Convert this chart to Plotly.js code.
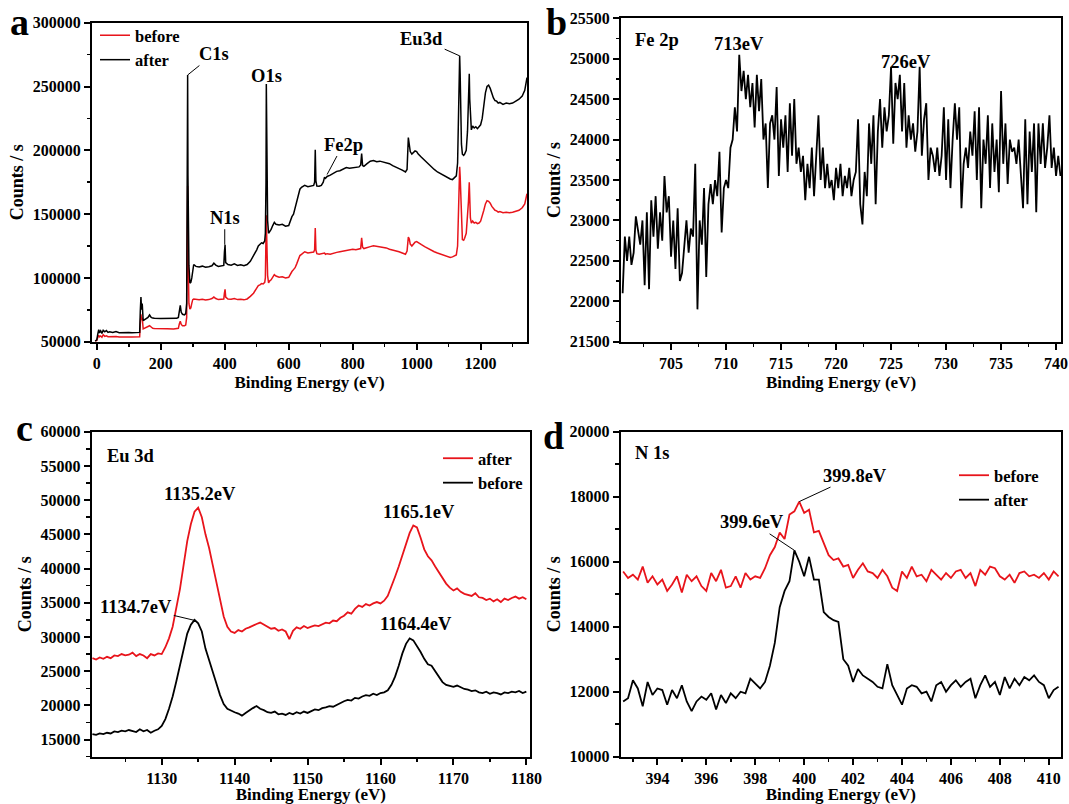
<!DOCTYPE html>
<html>
<head>
<meta charset="utf-8">
<script src="https://cdn.plot.ly/plotly-3.0.1.min.js"></script>
<style>html,body{margin:0;padding:0;background:#fff;}#chart{width:1069px;height:804px;}</style>
</head>
<body>
<div id="chart"></div>
<script>
// ---------- Panel a: survey spectrum ----------
const surveyEnergy = [
  -5,0,3,6,8,12,16,20,25,30,
  35,40,50,60,70,80,90,100,110,120,
  130,134,136,138,140,142,145,150,155,160,
  165,170,175,180,200,220,240,250,255,258,
  261,264,268,274,278,281,282,283,284,285,
  286,288,291,294,297,300,303,310,320,330,
  340,350,360,366,372,380,390,397,399,401,
  403,410,420,430,440,450,460,470,480,490,
  500,505,510,515,520,525,527,529,530,531,
  532,534,537,540,545,550,555,560,570,580,
  590,600,605,610,615,620,625,630,635,640,
  650,660,670,678,681,683,685,688,695,702,
  708,712,715,720,730,740,750,760,770,780,
  790,800,810,820,825,828,831,835,845,855,
  865,875,885,895,905,915,925,935,945,955,
  965,970,974,977,980,985,990,995,1000,1005,
  1015,1025,1035,1045,1055,1065,1075,1085,1095,1105,
  1112,1118,1124,1128,1131,1133,1134.5,1136,1138,1140,
  1143,1147,1150,1155,1159,1162,1164.5,1166,1168,1171,
  1175,1180,1185,1190,1195,1200,1205,1210,1215,1220,
  1225,1230,1235,1240,1245,1250,1255,1260,1270,1280,
  1290,1300,1310,1320,1330,1338,1345
];
const surveyAfter = [
  50500,51500,56000,59500,57000,58500,56500,59000,57800,58800,
  57300,57800,57200,57900,57100,57300,57000,57200,57000,57100,
  57100,57300,74000,85000,75000,80000,66500,67500,68000,69000,
  71000,69000,68500,68300,68200,68400,68100,68300,69000,75000,
  78500,73000,71500,71000,72000,80000,180000,185000,259000,180000,
  140000,110000,96000,96500,100000,108000,110500,109000,108500,109200,
  108300,108800,109500,111500,110000,109000,109500,109800,120000,126000,
  112000,110500,110000,111000,109800,110300,109500,110500,113000,117000,
  122000,125000,126000,127500,127000,129000,135000,175000,252000,230000,
  180000,145000,135000,136000,138000,141000,143500,142000,141500,142000,
  140500,141000,145000,148000,150000,155000,160000,166000,169500,171000,
  172500,171500,172000,172500,175000,200500,176000,172000,171800,172500,
  175000,179000,178000,179500,180500,182000,183500,184000,185000,186500,
  186000,186200,186500,187000,188500,197500,188000,187500,189500,191500,
  192000,191000,191500,191000,190000,189500,188000,187000,186000,184500,
  183000,185000,210000,205000,199000,197000,198000,199500,199000,197000,
  194500,192000,189500,187000,185000,183000,181500,180000,178500,177500,
  177000,178500,180000,190000,225000,230000,274000,260000,225000,205000,
  197000,196000,197000,200000,215000,240000,260000,240000,222000,216000,
  219000,217500,218500,217000,218500,220000,225000,235000,245000,250000,
  251000,248500,244000,241000,239000,238500,237000,237500,236000,237000,
  236500,237000,238500,240000,242500,247000,257000
];
const surveyBefore = [
  50300,51000,53500,55000,53800,54500,53500,55500,54200,54600,
  53900,54000,53700,54100,53600,53800,53500,53700,53600,53700,
  53700,53800,64000,71500,67000,69000,60000,60500,61000,61500,
  62500,61500,60500,60300,60000,60200,60000,60100,60500,64000,
  66000,63500,62500,62500,63000,69000,120000,130000,172000,125000,
  90000,80000,75500,76500,80000,83000,83500,83000,82800,83300,
  82700,83000,83800,85000,83800,83000,83200,83400,88000,91000,
  85000,83500,83200,83800,83000,83300,82800,83500,85500,88000,
  92000,94000,94500,95500,95200,96500,100000,120000,149000,135000,
  115000,102000,96000,97500,98500,101000,102500,101500,100500,100800,
  100000,100500,103000,105000,106500,108000,111000,115000,117500,118500,
  120500,119500,120000,120300,122000,139000,122000,119000,118500,118800,
  119000,119500,118500,119000,118500,119500,120000,120500,121000,121800,
  122300,122500,122000,122300,123000,131500,124000,123000,123500,124500,
  125200,124800,124500,124000,123500,122500,122000,121500,120500,119500,
  118500,121000,132000,130500,126500,125000,126500,128000,128500,127500,
  126000,124500,123000,122000,120500,119500,118500,117500,116500,116000,
  116500,117000,118000,125000,160000,175000,187000,180000,165000,140000,
  130000,129500,131000,135000,148000,160000,175000,160000,147000,143000,
  144500,143000,143500,142500,143000,144500,148000,153000,158000,160500,
  160000,158500,156000,154500,153000,152500,151500,152000,151000,151500,
  151000,151500,152000,153000,155000,158000,166000
];

// ---------- Panel b: Fe 2p ----------
const fe2pEnergy = [
  700.6,700.8,701.0,701.2,701.4,701.6,701.8,702.0,702.2,702.4,
  702.6,702.8,703.0,703.2,703.4,703.6,703.8,704.0,704.2,704.4,
  704.6,704.8,705.0,705.2,705.4,705.6,705.8,706.0,706.2,706.4,
  706.6,706.8,707.0,707.2,707.4,707.6,707.8,708.0,708.2,708.4,
  708.6,708.8,709.0,709.2,709.4,709.6,709.8,710.0,710.2,710.4,
  710.6,710.8,711.0,711.2,711.4,711.6,711.8,712.0,712.2,712.4,
  712.6,712.8,713.0,713.2,713.4,713.6,713.8,714.0,714.2,714.4,
  714.6,714.8,715.0,715.2,715.4,715.6,715.8,716.0,716.2,716.4,
  716.6,716.8,717.0,717.2,717.4,717.6,717.8,718.0,718.2,718.4,
  718.6,718.8,719.0,719.2,719.4,719.6,719.8,720.0,720.2,720.4,
  720.6,720.8,721.0,721.2,721.4,721.6,721.8,722.0,722.2,722.4,
  722.6,722.8,723.0,723.2,723.4,723.6,723.8,724.0,724.2,724.4,
  724.6,724.8,725.0,725.2,725.4,725.6,725.8,726.0,726.2,726.4,
  726.6,726.8,727.0,727.2,727.4,727.6,727.8,728.0,728.2,728.4,
  728.6,728.8,729.0,729.2,729.4,729.6,729.8,730.0,730.2,730.4,
  730.6,730.8,731.0,731.2,731.4,731.6,731.8,732.0,732.2,732.4,
  732.6,732.8,733.0,733.2,733.4,733.6,733.8,734.0,734.2,734.4,
  734.6,734.8,735.0,735.2,735.4,735.6,735.8,736.0,736.2,736.4,
  736.6,736.8,737.0,737.2,737.4,737.6,737.8,738.0,738.2,738.4,
  738.6,738.8,739.0,739.2,739.4,739.6,739.8,740.0,740.2,740.4
];
const fe2pCounts = [
  22100,22800,22500,22800,22450,22600,23050,22900,22700,23000,
  22200,23100,22150,23250,22800,23300,22650,23100,22750,23550,
  23100,23300,22550,23000,22400,23150,22250,22350,22700,23000,
  22600,22900,22800,23700,21900,23000,22700,23400,22300,23200,
  23450,23200,23500,23300,23850,22850,23400,23500,23400,23900,
  24000,24400,24100,25050,24600,24850,24500,24800,24400,24700,
  24150,24800,24350,24750,24000,24200,23400,24200,24300,24000,
  24650,23550,24250,23900,24300,23600,24450,23800,24500,23700,
  23900,23600,23800,23250,23700,23400,23900,23300,23800,24300,
  23500,23900,23400,23700,23400,23500,23250,23650,23400,23700,
  23300,23550,23400,23650,23300,23500,23600,24250,23200,22950,
  23600,23300,24200,23700,24300,23200,24100,24500,23900,24400,
  24100,24300,24900,23950,24700,24500,24800,24100,24700,23900,
  24300,24000,24200,23850,24100,24900,23800,24250,24450,23500,
  23900,23800,23600,23900,23550,23800,24400,23500,24250,23400,
  24000,24450,24000,24400,23150,23700,23900,23650,24100,23800,
  24350,23500,24400,23150,24000,23700,24300,23400,24200,23600,
  24000,23350,24600,23700,24200,23450,24000,23850,23900,23700,
  24000,23500,23150,24250,23200,24100,23600,24200,23100,24200,
  23700,24200,23650,23900,24300,23650,23900,23550,23800,23550
];

// ---------- Panel c: Eu 3d ----------
const eu3dEnergy = [
  1120.5,1121,1121.5,1122,1122.5,1123,1123.5,1124,1124.5,1125,
  1125.5,1126,1126.5,1127,1127.5,1128,1128.5,1129,1129.5,1130,
  1130.5,1131,1131.5,1132,1132.5,1133,1133.5,1134,1134.5,1135,
  1135.5,1136,1136.5,1137,1137.5,1138,1138.5,1139,1139.5,1140,
  1140.5,1141,1141.5,1142,1142.5,1143,1143.5,1144,1144.5,1145,
  1145.5,1146,1146.5,1147,1147.5,1148,1148.5,1149,1149.5,1150,
  1150.5,1151,1151.5,1152,1152.5,1153,1153.5,1154,1154.5,1155,
  1155.5,1156,1156.5,1157,1157.5,1158,1158.5,1159,1159.5,1160,
  1160.5,1161,1161.5,1162,1162.5,1163,1163.5,1164,1164.5,1165,
  1165.5,1166,1166.5,1167,1167.5,1168,1168.5,1169,1169.5,1170,
  1170.5,1171,1171.5,1172,1172.5,1173,1173.5,1174,1174.5,1175,
  1175.5,1176,1176.5,1177,1177.5,1178,1178.5,1179,1179.5,1180
];
const eu3dAfter = [
  26900,26700,27000,26800,27100,26900,27300,27200,27500,27300,
  27400,27700,27200,27500,27300,26900,27500,27300,27600,27500,
  28500,29800,31500,34000,37000,40500,44000,46500,48300,48900,
  47500,45000,43000,40500,38000,35500,33000,31500,30800,30600,
  31000,30800,31200,31400,31700,31900,32100,31800,31500,31200,
  31300,30900,31100,30800,29700,30900,31400,31200,31600,31300,
  31500,31700,31600,31900,32100,32000,32400,32300,32800,33100,
  33600,33400,34100,34600,34400,34800,34600,34900,35100,34900,
  35300,36000,37300,38800,40300,42000,43800,45200,46300,46000,
  44500,42800,41800,41200,40300,39500,38600,37800,37200,36800,
  37100,36600,36300,36200,36000,36400,35800,35700,35400,35600,
  35200,35500,35100,35600,35400,35700,35900,35600,35800,35500
];
const eu3dBefore = [
  15800,15700,15900,15800,16000,15900,16200,16100,16300,16200,
  16400,16300,16100,16500,16200,16400,16000,16300,16500,17000,
  18000,19500,21300,23500,25800,28300,30500,31800,32500,32000,
  30800,28300,26500,24800,23200,21500,20200,19500,19200,19000,
  18800,18500,18900,19300,19600,19900,19500,19300,19000,18900,
  19100,18700,18800,18600,18900,18700,19000,18800,19100,18900,
  19200,19400,19300,19600,19700,19900,19800,20100,20300,20600,
  20800,20700,21100,21000,21300,21500,21400,21700,21500,21800,
  21900,22200,23000,24200,25800,27600,29000,29800,29500,28700,
  27800,26800,26000,25800,25000,24200,23400,23000,22800,22700,
  22900,22600,22400,22300,22100,22200,21900,21800,22000,21700,
  21900,21800,21600,21900,21800,22000,21900,22100,21800,22000
];

// ---------- Panel d: N 1s ----------
const n1sEnergy = [
  392.6,392.8,393.0,393.2,393.4,393.6,393.8,394.0,394.2,394.4,
  394.6,394.8,395.0,395.2,395.4,395.6,395.8,396.0,396.2,396.4,
  396.6,396.8,397.0,397.2,397.4,397.6,397.8,398.0,398.2,398.4,
  398.6,398.8,399.0,399.2,399.4,399.6,399.8,400.0,400.2,400.4,
  400.6,400.8,401.0,401.2,401.4,401.6,401.8,402.0,402.2,402.4,
  402.6,402.8,403.0,403.2,403.4,403.6,403.8,404.0,404.2,404.4,
  404.6,404.8,405.0,405.2,405.4,405.6,405.8,406.0,406.2,406.4,
  406.6,406.8,407.0,407.2,407.4,407.6,407.8,408.0,408.2,408.4,
  408.6,408.8,409.0,409.2,409.4,409.6,409.8,410.0,410.2,410.4
];
const n1sBefore = [
  15700,15500,15600,15450,15850,15350,15550,15300,15450,15100,
  15300,15550,15050,15600,15400,15550,15250,15100,15650,15400,
  15750,15200,15250,15550,15200,15650,15450,15550,15500,15800,
  16200,16450,16900,16700,17450,17550,17850,17500,17600,16900,
  16950,16600,16200,16050,16100,15850,15900,15500,15750,15950,
  15700,15650,15500,15750,15550,15200,15100,15700,15500,15850,
  15550,15600,15400,15750,15600,15450,15650,15500,15700,15750,
  15500,15650,15250,15750,15600,15850,15800,15550,15450,15600,
  15350,15650,15700,15550,15600,15500,15650,15450,15700,15550
];
const n1sAfter = [
  11700,11800,12350,12100,11550,12300,11900,12100,12050,11600,
  12050,11800,12200,11700,11400,11700,11850,11750,11950,11450,
  11900,11650,11950,11800,12000,11950,12400,12250,12100,12300,
  12800,13500,14600,15100,15400,16350,16000,15550,16150,15450,
  15450,14450,14300,14200,14150,13000,12800,12300,12700,12500,
  12400,12300,12150,12100,12850,12200,11900,11600,12100,12200,
  12150,11950,12000,11700,12200,12300,12000,12200,12350,12150,
  12300,12400,11800,12200,12500,12150,12300,11900,12450,12100,
  12400,12200,12450,12350,12500,12300,12200,11800,12050,12150
];

const xTitle = 'Binding Energy (eV)';
const yTitle = 'Counts / s';

// ---------- styling ----------
const FAM = '"Liberation Serif", "Times New Roman", serif';
const W = 1069, H = 804;
const px = v => v / W;
const py = v => 1 - v / H;
const f = (size) => ({family: FAM, size: size, color: '#000', weight: 'bold'});
const RED = '#e8141b';
const TICK = 16, TITLE = 17, ANN = 18.5, LEG = 16.5;

function xAxis(dom, range, dtick, mdt, anchor) {
  return {
    domain: dom, range: range, anchor: anchor,
    showline: true, linecolor: '#000', linewidth: 2, mirror: true,
    ticks: 'outside', ticklen: 6, tickwidth: 2, tickcolor: '#000',
    tick0: 0, dtick: dtick, tickformat: 'd',
    minor: {ticks: 'outside', ticklen: 3.5, tickwidth: 1.5, tickcolor: '#000', dtick: mdt, tick0: 0, showgrid: false},
    showgrid: false, zeroline: false,
    tickfont: f(TICK),
    title: {text: xTitle, font: f(TITLE), standoff: 5}
  };
}
function yAxis(dom, range, dtick, mdt, anchor) {
  return {
    domain: dom, range: range, anchor: anchor,
    showline: true, linecolor: '#000', linewidth: 2, mirror: true,
    ticks: 'outside', ticklen: 6, tickwidth: 2, tickcolor: '#000',
    tick0: 0, dtick: dtick, tickformat: 'd',
    minor: {ticks: 'outside', ticklen: 3.5, tickwidth: 1.5, tickcolor: '#000', dtick: mdt, tick0: 0, showgrid: false},
    showgrid: false, zeroline: false,
    tickfont: f(TICK),
    title: {text: yTitle, font: f(18), standoff: 4}
  };
}

const traces = [
  {x: surveyEnergy, y: surveyBefore, name: 'before', xaxis: 'x', yaxis: 'y', mode: 'lines',
   line: {color: RED, width: 1.5}, legend: 'legend'},
  {x: surveyEnergy, y: surveyAfter, name: 'after', xaxis: 'x', yaxis: 'y', mode: 'lines',
   line: {color: '#000', width: 1.5}, legend: 'legend'},
  {x: fe2pEnergy, y: fe2pCounts, name: 'Fe 2p', xaxis: 'x2', yaxis: 'y2', mode: 'lines',
   line: {color: '#000', width: 1.8}, showlegend: false},
  {x: eu3dEnergy, y: eu3dAfter, name: 'after', xaxis: 'x3', yaxis: 'y3', mode: 'lines',
   line: {color: RED, width: 1.8}, legend: 'legend2'},
  {x: eu3dEnergy, y: eu3dBefore, name: 'before', xaxis: 'x3', yaxis: 'y3', mode: 'lines',
   line: {color: '#000', width: 1.8}, legend: 'legend2'},
  {x: n1sEnergy, y: n1sBefore, name: 'before', xaxis: 'x4', yaxis: 'y4', mode: 'lines',
   line: {color: RED, width: 1.8}, legend: 'legend3'},
  {x: n1sEnergy, y: n1sAfter, name: 'after', xaxis: 'x4', yaxis: 'y4', mode: 'lines',
   line: {color: '#000', width: 1.8}, legend: 'legend3'}
];

const legendBase = {xref: 'paper', yref: 'paper', xanchor: 'left', yanchor: 'top',
  bgcolor: 'rgba(0,0,0,0)', borderwidth: 0, font: f(LEG), tracegroupgap: 0, itemwidth: 30};

function lab(text, x, y, xref, yref, size, opts) {
  return Object.assign({text: text, x: x, y: y, xref: xref, yref: yref, showarrow: false,
    font: f(size)}, opts || {});
}
function arrowLab(text, x, y, xref, yref, ax, ay) {
  return {text: text, x: x, y: y, xref: xref, yref: yref, showarrow: true, arrowhead: 0,
    arrowwidth: 1, arrowcolor: '#000', ax: ax, ay: ay, font: f(ANN), standoff: 0};
}

const annotations = [
  // panel letters
  lab('a', px(19), py(22), 'paper', 'paper', 38, {xanchor: 'center', yanchor: 'middle'}),
  lab('b', px(556), py(22), 'paper', 'paper', 38, {xanchor: 'center', yanchor: 'middle'}),
  lab('c', px(24), py(428), 'paper', 'paper', 38, {xanchor: 'center', yanchor: 'middle'}),
  lab('d', px(553), py(436), 'paper', 'paper', 38, {xanchor: 'center', yanchor: 'middle'}),
  // panel a
  arrowLab('C1s', 284, 259000, 'x', 'y', 26, -21),
  lab('O1s', 530, 258500, 'x', 'y', ANN),
  arrowLab('N1s', 400, 126000, 'x', 'y', 0, -27),
  arrowLab('Fe2p', 720, 181000, 'x', 'y', 16, -30),
  arrowLab('Eu3d', 1134.5, 274000, 'x', 'y', -38, -17),
  // panel b
  lab('Fe 2p', 701.5, 25230, 'x2', 'y2', ANN, {xanchor: 'left'}),
  lab('713eV', 711.15, 25180, 'x2', 'y2', ANN),
  lab('726eV', 726.4, 24960, 'x2', 'y2', ANN),
  // panel c
  lab('Eu 3d', 1122.2, 56400, 'x3', 'y3', ANN, {xanchor: 'left'}),
  lab('1135.2eV', 1135.3, 50900, 'x3', 'y3', ANN),
  lab('1165.1eV', 1165.3, 48200, 'x3', 'y3', ANN),
  arrowLab('1134.7eV', 1134.6, 32400, 'x3', 'y3', -59, -14),
  lab('1164.4eV', 1164.8, 31900, 'x3', 'y3', ANN),
  // panel d
  lab('N 1s', 393.0, 19330, 'x4', 'y4', ANN, {xanchor: 'left'}),
  arrowLab('399.8eV', 399.8, 17850, 'x4', 'y4', 56, -26),
  arrowLab('399.6eV', 399.6, 16350, 'x4', 'y4', -42, -28)
];

const layout = {
  width: W, height: H,
  margin: {l: 0, r: 0, t: 0, b: 0},
  paper_bgcolor: '#fff', plot_bgcolor: '#fff',
  font: f(TICK),
  showlegend: true,
  xaxis: xAxis([px(92), px(527)], [-15, 1345], 200, 100, 'y'),
  yaxis: yAxis([py(341.7), py(22.7)], [50000, 300000], 50000, 25000, 'x'),
  xaxis2: xAxis([px(621), px(1061)], [700.45, 740.45], 5, 2.5, 'y2'),
  yaxis2: yAxis([py(341.7), py(18.3)], [21500, 25500], 500, 250, 'x2'),
  xaxis3: xAxis([px(91.7), px(530)], [1120.4, 1180.5], 10, 5, 'y3'),
  yaxis3: yAxis([py(756.7), py(431.7)], [12500, 60000], 5000, 2500, 'x3'),
  xaxis4: xAxis([px(620.7), px(1061)], [392.5, 410.5], 2, 1, 'y4'),
  yaxis4: yAxis([py(756.7), py(431.7)], [10000, 20000], 2000, 1000, 'x4'),
  legend: Object.assign({}, legendBase, {x: px(95), y: py(18)}),
  legend2: Object.assign({}, legendBase, {x: px(438), y: py(441)}),
  legend3: Object.assign({}, legendBase, {x: px(954), y: py(458)}),
  annotations: annotations
};

Plotly.newPlot('chart', traces, layout, {staticPlot: true, displayModeBar: false});
</script>
</body>
</html>
